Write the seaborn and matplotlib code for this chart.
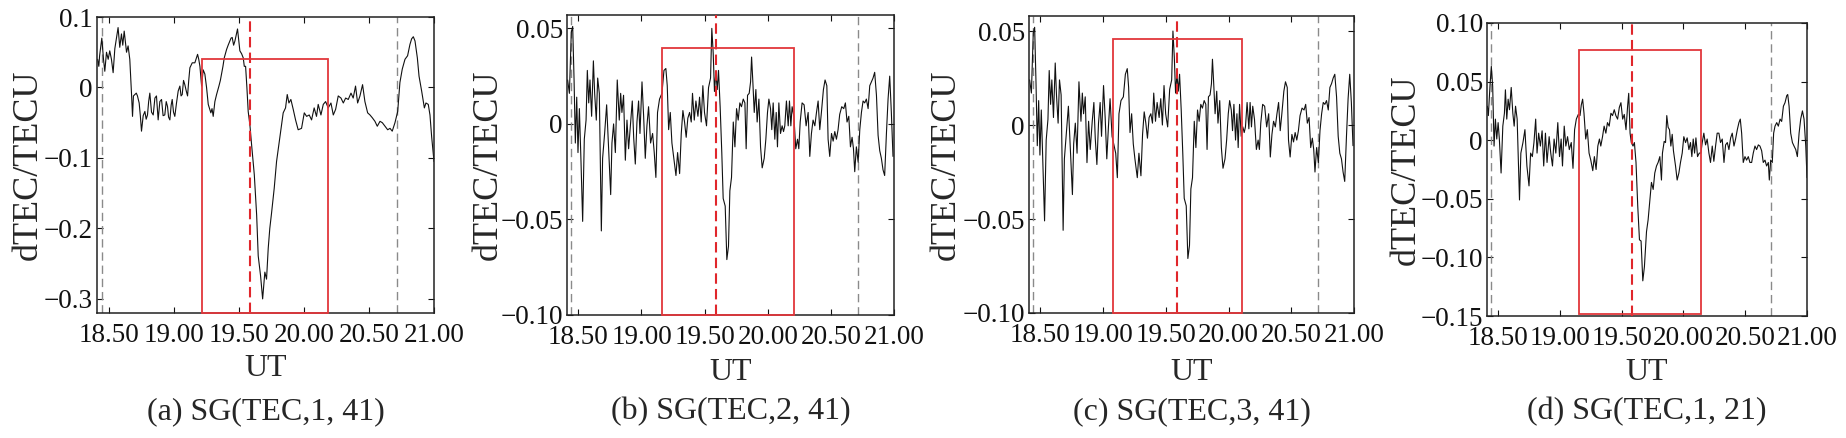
import matplotlib
matplotlib.use("Agg")
import matplotlib.pyplot as plt
from matplotlib.patches import Rectangle
import seaborn as sns

# dTEC traces, as (UT hour, dTEC in TECU)
trace_a = [
    (18.415, 0.040), (18.424, 0.030), (18.430, 0.045), (18.447, 0.070), (18.460, 0.040),
    (18.470, 0.023), (18.483, 0.050), (18.496, 0.040), (18.508, 0.052), (18.521, 0.040),
    (18.534, 0.021), (18.547, 0.055), (18.560, 0.071), (18.572, 0.085), (18.585, 0.057),
    (18.598, 0.076), (18.608, 0.060), (18.619, 0.080), (18.630, 0.062), (18.637, 0.050),
    (18.649, 0.059), (18.662, 0.040), (18.675, -0.008), (18.683, -0.041), (18.690, -0.012),
    (18.701, -0.010), (18.712, -0.008), (18.721, -0.012), (18.734, -0.022), (18.743, -0.040),
    (18.752, -0.062), (18.765, -0.040), (18.778, -0.034), (18.788, -0.045), (18.798, -0.039),
    (18.807, -0.020), (18.816, -0.008), (18.829, -0.035), (18.842, -0.039), (18.855, -0.015),
    (18.867, -0.012), (18.880, -0.046), (18.893, -0.020), (18.906, -0.017), (18.918, -0.040),
    (18.931, -0.039), (18.942, -0.020), (18.952, -0.027), (18.960, -0.042), (18.970, -0.046),
    (18.980, -0.025), (18.988, -0.017), (18.998, -0.035), (19.008, -0.041), (19.021, -0.022),
    (19.034, -0.005), (19.047, 0.002), (19.056, -0.012), (19.065, -0.010), (19.075, 0.010),
    (19.085, 0.004), (19.096, -0.005), (19.106, -0.012), (19.115, 0.010), (19.124, 0.028),
    (19.142, 0.035), (19.162, 0.035), (19.183, 0.047), (19.192, 0.040), (19.201, 0.030),
    (19.214, 0.002), (19.226, 0.025), (19.239, 0.019), (19.252, 0.000), (19.265, -0.024),
    (19.285, -0.036), (19.294, -0.030), (19.303, -0.041), (19.316, -0.020), (19.329, -0.010),
    (19.347, 0.002), (19.358, 0.010), (19.367, 0.019), (19.378, 0.030), (19.388, 0.042),
    (19.406, 0.054), (19.418, 0.060), (19.431, 0.066), (19.440, 0.070), (19.449, 0.071),
    (19.460, 0.060), (19.470, 0.066), (19.490, 0.083), (19.500, 0.065), (19.508, 0.052),
    (19.521, 0.048), (19.534, 0.042), (19.542, 0.030), (19.552, 0.030), (19.562, 0.000),
    (19.572, -0.034), (19.585, -0.053), (19.598, -0.081), (19.619, -0.124), (19.637, -0.181),
    (19.649, -0.239), (19.667, -0.267), (19.683, -0.300), (19.700, -0.262), (19.713, -0.272),
    (19.726, -0.228), (19.738, -0.200), (19.751, -0.179), (19.772, -0.143), (19.790, -0.105),
    (19.808, -0.081), (19.823, -0.062), (19.841, -0.036), (19.859, -0.029), (19.872, -0.010),
    (19.885, -0.022), (19.900, -0.017), (19.918, -0.031), (19.936, -0.046), (19.956, -0.060),
    (19.982, -0.058), (20.003, -0.036), (20.021, -0.041), (20.041, -0.039), (20.059, -0.046),
    (20.079, -0.029), (20.097, -0.041), (20.110, -0.024), (20.131, -0.039), (20.149, -0.024),
    (20.167, -0.020), (20.187, -0.029), (20.208, -0.022), (20.226, -0.039), (20.244, -0.031),
    (20.264, -0.012), (20.285, -0.015), (20.303, -0.022), (20.321, -0.015), (20.341, -0.017),
    (20.362, -0.008), (20.379, -0.015), (20.397, 0.002), (20.413, -0.022), (20.431, -0.012),
    (20.451, 0.004), (20.469, -0.020), (20.490, -0.036), (20.508, -0.039), (20.526, -0.043),
    (20.546, -0.048), (20.564, -0.055), (20.585, -0.048), (20.603, -0.050), (20.623, -0.055),
    (20.644, -0.060), (20.662, -0.058), (20.679, -0.062), (20.700, -0.050), (20.721, -0.034),
    (20.738, 0.007), (20.756, 0.026), (20.777, 0.040), (20.797, 0.045), (20.815, 0.061),
    (20.828, 0.069), (20.841, 0.072), (20.854, 0.066), (20.872, 0.042), (20.885, 0.016),
    (20.905, -0.005), (20.926, -0.029), (20.938, -0.022), (20.956, -0.024), (20.969, -0.039),
    (20.982, -0.070), (21.000, -0.105),
]

trace_b = [
    (18.415, 0.023), (18.429, 0.016), (18.444, 0.048), (18.455, 0.051), (18.466, 0.023),
    (18.476, -0.010), (18.487, 0.014), (18.497, -0.015), (18.508, 0.008), (18.521, -0.020),
    (18.534, -0.051), (18.547, -0.008), (18.561, 0.002), (18.571, 0.028), (18.582, 0.011),
    (18.592, 0.023), (18.605, 0.004), (18.619, 0.033), (18.629, 0.016), (18.642, 0.002),
    (18.653, 0.024), (18.666, 0.016), (18.682, -0.056), (18.692, -0.018), (18.708, -0.005),
    (18.724, 0.010), (18.740, -0.013), (18.756, -0.037), (18.766, -0.010), (18.779, 0.000),
    (18.793, -0.015), (18.808, 0.023), (18.824, 0.002), (18.835, 0.016), (18.845, 0.006),
    (18.858, 0.015), (18.872, -0.019), (18.885, 0.002), (18.898, -0.013), (18.914, 0.001),
    (18.927, 0.012), (18.938, -0.007), (18.951, -0.021), (18.964, 0.001), (18.977, 0.012),
    (18.988, -0.005), (19.004, 0.022), (19.017, 0.004), (19.030, -0.018), (19.043, -0.001),
    (19.056, 0.009), (19.072, -0.010), (19.088, -0.005), (19.101, -0.015), (19.114, -0.028),
    (19.127, 0.006), (19.143, 0.013), (19.162, 0.016), (19.178, 0.028), (19.193, 0.029),
    (19.204, 0.020), (19.215, -0.003), (19.228, 0.006), (19.241, -0.010), (19.254, -0.017),
    (19.273, -0.027), (19.286, -0.015), (19.302, -0.026), (19.315, -0.005), (19.328, 0.007),
    (19.341, 0.001), (19.354, -0.007), (19.367, 0.003), (19.381, 0.006), (19.394, 0.001),
    (19.404, 0.016), (19.418, 0.002), (19.431, 0.012), (19.447, 0.004), (19.460, 0.014),
    (19.473, 0.001), (19.486, 0.020), (19.499, 0.006), (19.515, -0.001), (19.531, 0.019),
    (19.547, 0.024), (19.557, 0.050), (19.568, 0.037), (19.578, 0.017), (19.589, 0.027),
    (19.600, 0.018), (19.610, 0.028), (19.623, 0.009), (19.636, -0.015), (19.647, -0.039),
    (19.663, -0.043), (19.676, -0.071), (19.689, -0.064), (19.700, -0.035), (19.713, -0.028),
    (19.727, 0.001), (19.740, -0.012), (19.753, 0.008), (19.766, 0.002), (19.779, 0.011),
    (19.792, 0.009), (19.806, 0.013), (19.819, 0.011), (19.829, -0.013), (19.840, 0.015),
    (19.853, 0.016), (19.864, 0.022), (19.872, 0.035), (19.882, 0.022), (19.893, 0.006),
    (19.906, 0.018), (19.916, 0.001), (19.930, 0.013), (19.943, -0.012), (19.956, -0.023),
    (19.972, -0.018), (19.985, -0.008), (19.998, 0.006), (20.009, 0.013), (20.022, 0.008),
    (20.032, -0.003), (20.043, 0.011), (20.056, -0.008), (20.067, 0.006), (20.077, -0.012),
    (20.088, 0.011), (20.101, -0.005), (20.114, -0.001), (20.125, -0.004), (20.135, -0.001),
    (20.148, 0.012), (20.162, -0.001), (20.172, 0.012), (20.183, -0.001), (20.193, 0.009),
    (20.207, 0.004), (20.222, -0.013), (20.236, -0.008), (20.246, -0.013), (20.257, 0.001),
    (20.272, 0.011), (20.288, 0.010), (20.304, -0.001), (20.320, 0.006), (20.333, -0.017),
    (20.346, -0.005), (20.359, 0.002), (20.373, -0.001), (20.386, 0.006), (20.399, 0.012),
    (20.412, -0.003), (20.425, 0.006), (20.441, 0.018), (20.454, 0.023), (20.468, 0.020),
    (20.478, -0.008), (20.491, -0.017), (20.505, -0.005), (20.518, -0.009), (20.531, -0.004),
    (20.544, -0.008), (20.557, -0.003), (20.570, 0.005), (20.586, 0.009), (20.602, 0.008),
    (20.615, 0.011), (20.628, 0.001), (20.642, 0.004), (20.655, -0.012), (20.668, -0.007),
    (20.679, -0.013), (20.689, -0.025), (20.702, -0.012), (20.716, -0.020), (20.729, -0.003),
    (20.742, 0.006), (20.755, 0.012), (20.768, 0.011), (20.781, 0.013), (20.795, 0.008),
    (20.808, 0.020), (20.821, 0.022), (20.834, 0.024), (20.847, 0.027), (20.861, 0.015),
    (20.874, -0.006), (20.887, -0.014), (20.900, -0.018), (20.913, -0.024), (20.926, -0.027),
    (20.940, -0.005), (20.953, 0.013), (20.966, 0.025), (20.979, 0.006), (20.992, -0.017),
]

trace_c = [
    (18.415, 0.024), (18.429, 0.017), (18.444, 0.049), (18.455, 0.052), (18.466, 0.022),
    (18.476, -0.011), (18.487, 0.013), (18.497, -0.016), (18.508, 0.008), (18.521, -0.021),
    (18.534, -0.051), (18.547, -0.008), (18.561, 0.003), (18.571, 0.029), (18.582, 0.011),
    (18.592, 0.024), (18.605, 0.004), (18.619, 0.033), (18.629, 0.016), (18.642, 0.001),
    (18.653, 0.024), (18.666, 0.016), (18.682, -0.056), (18.692, -0.018), (18.708, -0.004),
    (18.724, 0.010), (18.740, -0.014), (18.756, -0.037), (18.766, -0.010), (18.779, 0.001),
    (18.793, -0.015), (18.808, 0.023), (18.824, 0.002), (18.835, 0.017), (18.845, 0.006),
    (18.858, 0.015), (18.872, -0.020), (18.885, 0.002), (18.898, -0.013), (18.914, 0.002),
    (18.927, 0.012), (18.938, -0.007), (18.951, -0.021), (18.964, 0.001), (18.977, 0.012),
    (18.988, -0.006), (19.004, 0.021), (19.017, 0.004), (19.030, -0.018), (19.043, -0.001),
    (19.056, 0.014), (19.072, -0.006), (19.088, -0.011), (19.101, -0.015), (19.114, -0.028),
    (19.127, 0.006), (19.143, 0.013), (19.162, 0.015), (19.178, 0.027), (19.193, 0.030),
    (19.204, 0.020), (19.215, -0.004), (19.228, 0.006), (19.241, -0.010), (19.254, -0.018),
    (19.273, -0.028), (19.286, -0.015), (19.302, -0.027), (19.315, -0.005), (19.328, 0.007),
    (19.341, 0.001), (19.354, -0.007), (19.367, 0.004), (19.381, 0.006), (19.394, 0.001),
    (19.404, 0.017), (19.418, 0.002), (19.431, 0.012), (19.447, 0.004), (19.460, 0.014),
    (19.473, 0.000), (19.486, 0.021), (19.499, 0.006), (19.515, -0.001), (19.531, 0.019),
    (19.547, 0.024), (19.557, 0.050), (19.568, 0.036), (19.578, 0.017), (19.589, 0.027),
    (19.600, 0.018), (19.610, 0.027), (19.623, 0.008), (19.636, -0.016), (19.647, -0.039),
    (19.663, -0.043), (19.676, -0.071), (19.689, -0.064), (19.700, -0.034), (19.713, -0.028),
    (19.727, 0.002), (19.740, -0.012), (19.753, 0.008), (19.766, 0.002), (19.779, 0.011),
    (19.792, 0.009), (19.806, 0.013), (19.819, 0.011), (19.829, -0.013), (19.840, 0.015),
    (19.853, 0.016), (19.864, 0.022), (19.872, 0.035), (19.882, 0.022), (19.893, 0.006),
    (19.906, 0.018), (19.916, 0.001), (19.930, 0.013), (19.943, -0.012), (19.956, -0.023),
    (19.972, -0.018), (19.985, -0.008), (19.998, 0.006), (20.009, 0.013), (20.022, 0.008),
    (20.032, -0.003), (20.043, 0.011), (20.056, -0.008), (20.067, 0.006), (20.077, -0.012),
    (20.088, 0.011), (20.101, -0.006), (20.114, -0.001), (20.125, -0.004), (20.135, -0.001),
    (20.148, 0.012), (20.162, -0.002), (20.172, 0.012), (20.183, -0.001), (20.193, 0.010),
    (20.207, 0.003), (20.222, -0.013), (20.236, -0.008), (20.246, -0.013), (20.257, 0.001),
    (20.272, 0.011), (20.288, 0.010), (20.304, -0.001), (20.320, 0.006), (20.333, -0.017),
    (20.346, -0.005), (20.359, 0.002), (20.373, -0.001), (20.386, 0.006), (20.399, 0.012),
    (20.412, -0.003), (20.425, 0.006), (20.441, 0.018), (20.454, 0.023), (20.468, 0.020),
    (20.478, -0.008), (20.491, -0.017), (20.505, -0.005), (20.518, -0.009), (20.531, -0.004),
    (20.544, -0.008), (20.557, -0.003), (20.570, 0.005), (20.586, 0.009), (20.602, 0.008),
    (20.615, 0.011), (20.628, 0.001), (20.642, 0.004), (20.655, -0.012), (20.668, -0.007),
    (20.679, -0.013), (20.689, -0.025), (20.702, -0.012), (20.716, -0.020), (20.729, -0.003),
    (20.742, 0.006), (20.755, 0.012), (20.768, 0.011), (20.781, 0.013), (20.795, 0.008),
    (20.808, 0.020), (20.821, 0.022), (20.834, 0.025), (20.847, 0.027), (20.861, 0.015),
    (20.874, -0.006), (20.887, -0.015), (20.900, -0.018), (20.913, -0.025), (20.926, -0.030),
    (20.940, -0.006), (20.953, 0.014), (20.966, 0.027), (20.979, 0.012), (20.992, -0.011),
]

trace_d = [
    (18.413, 0.029), (18.421, 0.021), (18.434, 0.046), (18.445, 0.063), (18.456, 0.046),
    (18.467, -0.005), (18.478, 0.018), (18.489, 0.001), (18.500, 0.015), (18.510, 0.001),
    (18.524, -0.028), (18.538, 0.012), (18.551, 0.023), (18.559, 0.043), (18.570, 0.018),
    (18.581, 0.035), (18.592, 0.026), (18.606, 0.045), (18.619, 0.023), (18.630, 0.012),
    (18.641, 0.029), (18.654, 0.018), (18.673, -0.051), (18.684, -0.011), (18.701, -0.002),
    (18.717, 0.009), (18.733, -0.022), (18.750, -0.039), (18.763, -0.011), (18.777, -0.014),
    (18.790, -0.002), (18.804, 0.018), (18.815, -0.011), (18.828, 0.006), (18.842, -0.005),
    (18.856, 0.008), (18.869, -0.022), (18.883, 0.006), (18.896, -0.019), (18.913, 0.003),
    (18.926, -0.011), (18.940, -0.022), (18.953, 0.001), (18.967, -0.011), (18.983, 0.015),
    (18.997, -0.014), (19.010, 0.001), (19.021, -0.022), (19.035, 0.012), (19.048, -0.005),
    (19.062, 0.003), (19.076, -0.008), (19.092, -0.002), (19.106, -0.024), (19.119, 0.009),
    (19.133, 0.018), (19.149, 0.022), (19.163, 0.021), (19.173, 0.030), (19.184, 0.035),
    (19.195, 0.023), (19.209, 0.001), (19.222, 0.009), (19.236, -0.011), (19.250, -0.017),
    (19.266, -0.026), (19.279, -0.014), (19.293, -0.025), (19.307, -0.005), (19.320, 0.001),
    (19.331, -0.005), (19.345, 0.003), (19.358, 0.012), (19.372, 0.006), (19.385, 0.015),
    (19.399, 0.012), (19.413, 0.023), (19.426, 0.021), (19.440, 0.026), (19.453, 0.021),
    (19.467, 0.018), (19.481, 0.028), (19.494, 0.032), (19.508, 0.018), (19.521, 0.022),
    (19.535, 0.009), (19.548, 0.029), (19.557, 0.040), (19.568, 0.006), (19.578, -0.002),
    (19.592, -0.005), (19.603, -0.002), (19.616, -0.019), (19.630, -0.056), (19.644, -0.085),
    (19.657, -0.086), (19.671, -0.120), (19.684, -0.108), (19.701, -0.078), (19.714, -0.068),
    (19.728, -0.051), (19.741, -0.036), (19.755, -0.042), (19.768, -0.028), (19.782, -0.022),
    (19.795, -0.019), (19.809, -0.014), (19.822, -0.034), (19.830, -0.011), (19.844, -0.001),
    (19.855, -0.002), (19.865, 0.021), (19.876, 0.011), (19.887, 0.009), (19.898, -0.005),
    (19.909, 0.005), (19.919, -0.009), (19.936, -0.022), (19.949, -0.034), (19.963, -0.028),
    (19.976, -0.019), (19.990, -0.011), (20.003, 0.003), (20.017, -0.002), (20.030, 0.002),
    (20.044, -0.008), (20.057, -0.002), (20.068, -0.014), (20.079, 0.001), (20.090, -0.011),
    (20.101, 0.002), (20.114, -0.014), (20.128, -0.011), (20.141, -0.011), (20.152, -0.002),
    (20.165, 0.006), (20.179, -0.004), (20.192, 0.001), (20.206, -0.011), (20.219, -0.019),
    (20.233, -0.005), (20.246, -0.018), (20.260, -0.005), (20.273, 0.006), (20.287, 0.006),
    (20.300, -0.002), (20.314, 0.001), (20.328, -0.019), (20.341, -0.004), (20.355, -0.002),
    (20.368, -0.008), (20.382, 0.002), (20.395, 0.006), (20.409, -0.005), (20.422, 0.001),
    (20.436, 0.009), (20.449, 0.015), (20.460, 0.018), (20.471, 0.006), (20.484, -0.019),
    (20.498, -0.014), (20.511, -0.017), (20.525, -0.014), (20.538, -0.019), (20.552, -0.019),
    (20.565, -0.011), (20.579, -0.005), (20.592, -0.008), (20.606, -0.004), (20.619, -0.005),
    (20.633, -0.009), (20.646, -0.019), (20.660, -0.017), (20.673, -0.022), (20.687, -0.019),
    (20.695, -0.034), (20.706, -0.017), (20.719, -0.019), (20.730, 0.006), (20.741, 0.012),
    (20.755, 0.015), (20.768, 0.012), (20.782, 0.018), (20.795, 0.016), (20.809, 0.029),
    (20.822, 0.032), (20.836, 0.038), (20.844, 0.039), (20.855, 0.029), (20.868, 0.006),
    (20.882, -0.002), (20.895, -0.005), (20.909, -0.008), (20.922, -0.014), (20.936, 0.006),
    (20.949, 0.018), (20.963, 0.025), (20.976, 0.018), (20.990, -0.005), (21.000, -0.032),
]

captions = ["(a) SG(TEC,1, 41)", "(b) SG(TEC,2, 41)", "(c) SG(TEC,3, 41)", "(d) SG(TEC,1, 21)"]

# event window (start, end, bottom, top) marked by the red box
windows = [
    (19.218, 20.187, -0.320, 0.0400),
    (19.162, 20.209, -0.100, 0.0396),
    (19.076, 20.109, -0.100, 0.0456),
    (19.153, 20.143, -0.148, 0.0767),
]
onset_ut = 19.587            # red dashed line
span_ut = [18.445, 20.712]   # grey dashed lines

ylims = [(-0.32, 0.10), (-0.10, 0.057), (-0.10, 0.058), (-0.15, 0.10)]
yticks = [
    [0.1, 0.0, -0.1, -0.2, -0.3],
    [0.05, 0.0, -0.05, -0.10],
    [0.05, 0.0, -0.05, -0.10],
    [0.10, 0.05, 0.0, -0.05, -0.10, -0.15],
]
ytick_labels = [
    ["0.1", "0", "\u22120.1", "\u22120.2", "\u22120.3"],
    ["0.05", "0", "\u22120.05", "\u22120.10"],
    ["0.05", "0", "\u22120.05", "\u22120.10"],
    ["0.10", "0.05", "0", "\u22120.05", "\u22120.10", "\u22120.15"],
]
xticks = [18.5, 19.0, 19.5, 20.0, 20.5, 21.0]
xtick_labels = ["18.50", "19.00", "19.50", "20.00", "20.50", "21.00"]
xlim = (18.41, 21.0)

sns.set_theme(style="ticks")
plt.rcParams["font.family"] = ["Liberation Serif", "DejaVu Serif"]
plt.rcParams["axes.unicode_minus"] = True

W, H = 1846, 438
fig = plt.figure(figsize=(W / 100, H / 100), dpi=100)

# axes boxes in pixels: left, top, right, bottom
boxes = [(97, 17, 434, 313), (567, 15, 894, 315), (1029, 16, 1354, 313), (1487, 23, 1807, 316)]
ylabel_off = [69, 79, 83, 81]   # px from the left spine to the y label centre
xlabel_off = [55, 57, 59, 57]   # px from the bottom spine to the "UT" centre

traces = [trace_a, trace_b, trace_c, trace_d]

for i, (l, t, r, b) in enumerate(boxes):
    ax = fig.add_axes([l / W, 1 - b / H, (r - l) / W, (b - t) / H])
    ut, dtec = map(list, zip(*traces[i]))

    sns.lineplot(x=ut, y=dtec, ax=ax, color="#111111", linewidth=0.8,
                 estimator=None, sort=False)

    for s in span_ut:
        ax.axvline(s, color="#8a8a8a", lw=1.0, ls=(0, (6, 3.5)), zorder=1)
    ax.axvline(onset_ut, color="#e0262b", lw=1.5, ls=(0, (5, 2.5)), zorder=3)

    x0, x1, y0, y1 = windows[i]
    ax.add_patch(Rectangle((x0, y0), x1 - x0, y1 - y0, fill=False,
                           edgecolor="#e2373b", linewidth=1.3, zorder=4, clip_on=False))

    ax.set_xlim(*xlim)
    ax.set_ylim(*ylims[i])
    ax.set_xticks(xticks)
    ax.set_xticklabels(xtick_labels)
    ax.set_yticks(yticks[i])
    ax.set_yticklabels(ytick_labels[i])
    ax.tick_params(direction="in", top=True, right=True, length=4, width=0.8,
                   labelsize=19.5, colors="#111111")
    ax.tick_params(axis="x", pad=7)
    ax.tick_params(axis="y", pad=3)
    for sp in ax.spines.values():
        sp.set_linewidth(1.1)
        sp.set_color("#222222")

    ax.set_ylabel("dTEC/TECU", fontsize=26, va="center")
    ax.yaxis.set_label_coords(-ylabel_off[i] / (r - l), 0.5)
    ax.set_xlabel("UT", fontsize=23, va="center")
    ax.xaxis.set_label_coords(0.5, -xlabel_off[i] / (b - t))

    fig.text((l + r) / 2 / W, 1 - 412 / H, captions[i], fontsize=23,
             ha="center", va="center")

fig.savefig("out.png", dpi=100)
